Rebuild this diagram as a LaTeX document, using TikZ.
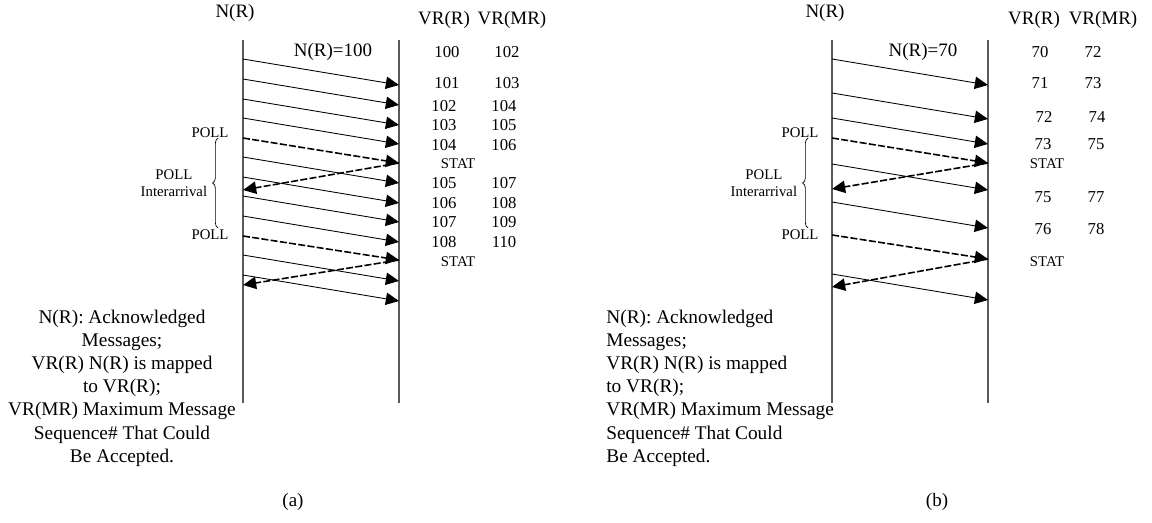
\documentclass[tikz,border=0pt]{standalone}
\usepackage{fontspec}
\setmainfont{Liberation Serif}
\usetikzlibrary{arrows.meta,decorations.pathreplacing,calc,positioning}

\begin{document}
\begin{tikzpicture}[x=0.02cm, y=-0.02cm,
        lifeline/.style={draw=black!65, line width=0.8pt},
        msg/.style={draw, line width=0.5pt, -{Triangle[length=7.5pt,width=7pt]}},
        pollmsg/.style={msg, line width=0.9pt, dash pattern=on 4pt off 1.3pt},
        head/.style={font=\fontsize{10.8}{13}\selectfont, inner sep=0pt},
        num/.style={font=\fontsize{9.5}{11}\selectfont, inner sep=0pt},
        tiny/.style={font=\fontsize{8.4}{10}\selectfont, inner sep=0pt, align=center},
        legend/.style={font=\fontsize{11}{13.2}\selectfont, inner sep=0pt}
    ]
        \useasboundingbox (0,0) rectangle (1152,523);

        % (a) N(R)=100
        \coordinate (la top) at (243,40);  \coordinate (la bot) at (243,403);
        \coordinate (ra top) at (399,40);  \coordinate (ra bot) at (399,403);
        \draw[lifeline] (la top) -- (la bot);
        \draw[lifeline] (ra top) -- (ra bot);

        \node[head] (nra) at (235,13) {N(R)};
        \node[head] (vra) at (444,20) {VR(R)};
        \node[head] (vmra) at (512,20) {VR(MR)};
        \node[head] (nra val) at (333,52) {N(R)=100};

        \foreach \s [count=\i] in {59,79,99,118,157,177,196,216,255,275} {
            \coordinate (as\i) at (243,\s);
            \coordinate (ae\i) at (399,\s+26);
            \draw[msg] (as\i) -- (ae\i);
        }
        \coordinate (apoll1) at (243,138); \coordinate (astat1) at (399,163);
        \coordinate (aback1) at (243,190);
        \coordinate (apoll2) at (243,236); \coordinate (astat2) at (399,260);
        \coordinate (aback2) at (243,285);
        \draw[pollmsg] (apoll1) -- (astat1);
        \draw[pollmsg] (astat1) -- (aback1);
        \draw[pollmsg] (apoll2) -- (astat2);
        \draw[pollmsg] (astat2) -- (aback2);

        \foreach \a/\b/\x/\y in {100/102/447/52, 101/103/447/83, 102/104/444/106,
                103/105/444/125, 104/106/444/145, 105/107/444/183, 106/108/444/203,
                107/109/444/222, 108/110/444/242} {
            \node[num] (vra\a) at (\x,\y) {\a};
            \node[num] (vmra\b) at (\x+60,\y) {\b};
        }
        \node[tiny] (astatl1) at (458,164) {STAT};
        \node[tiny] (astatl2) at (458,262) {STAT};

        \node[tiny] (apolll1) at (210,133) {POLL};
        \node[tiny] (apolll2) at (210,235) {POLL};
        \draw[decorate, decoration={brace, amplitude=3pt}, line width=0.4pt]
            (218,228) -- (218,138) coordinate[midway] (abrace);
        \node[tiny, left=6pt of abrace] (ainter) {POLL\\Interarrival};

        \node[legend, align=center] (alegend) at (122,388)
            {N(R): Acknowledged\\Messages;\\VR(R) N(R) is mapped\\to VR(R);\\
             VR(MR) Maximum Message\\Sequence\# That Could\\Be Accepted.};
        \node[head] (acap) at (293,502) {(a)};

        % (b) N(R)=70
        \coordinate (lb top) at (832,40);  \coordinate (lb bot) at (832,403);
        \coordinate (rb top) at (988,40);  \coordinate (rb bot) at (988,403);
        \draw[lifeline] (lb top) -- (lb bot);
        \draw[lifeline] (rb top) -- (rb bot);

        \node[head] (nrb) at (825,13) {N(R)};
        \node[head] (vrb) at (1034,20) {VR(R)};
        \node[head] (vmrb) at (1103,20) {VR(MR)};
        \node[head] (nrb val) at (923,52) {N(R)=70};

        \foreach \s [count=\i] in {59,93,118,164,202,274} {
            \coordinate (bs\i) at (832,\s);
            \coordinate (be\i) at (988,\s+26);
            \draw[msg] (bs\i) -- (be\i);
        }
        \coordinate (bpoll1) at (832,138); \coordinate (bstat1) at (988,163);
        \coordinate (bback1) at (832,189);
        \coordinate (bpoll2) at (832,235); \coordinate (bstat2) at (988,259);
        \coordinate (bback2) at (832,287);
        \draw[pollmsg] (bpoll1) -- (bstat1);
        \draw[pollmsg] (bstat1) -- (bback1);
        \draw[pollmsg] (bpoll2) -- (bstat2);
        \draw[pollmsg] (bstat2) -- (bback2);

        \foreach \a/\b/\x/\y in {70/72/1040/52, 71/73/1040/83, 72/74/1044/117,
                73/75/1043/144, 75/77/1043/197, 76/78/1043/229} {
            \node[num] (vrb\a) at (\x,\y) {\a};
            \node[num] (vmrb\b) at (\x+53,\y) {\b};
        }
        \node[tiny] (bstatl1) at (1047,164) {STAT};
        \node[tiny] (bstatl2) at (1047,262) {STAT};

        \node[tiny] (bpolll1) at (800,133) {POLL};
        \node[tiny] (bpolll2) at (800,235) {POLL};
        \draw[decorate, decoration={brace, amplitude=3pt}, line width=0.4pt]
            (808,228) -- (808,138) coordinate[midway] (bbrace);
        \node[tiny, left=6pt of bbrace] (binter) {POLL\\Interarrival};

        \node[legend, align=left, anchor=west] (blegend) at (606,388)
            {N(R): Acknowledged\\Messages;\\VR(R) N(R) is mapped\\to VR(R);\\
             VR(MR) Maximum Message\\Sequence\# That Could\\Be Accepted.};
        \node[head] (bcap) at (937,502) {(b)};
\end{tikzpicture}
\end{document}
